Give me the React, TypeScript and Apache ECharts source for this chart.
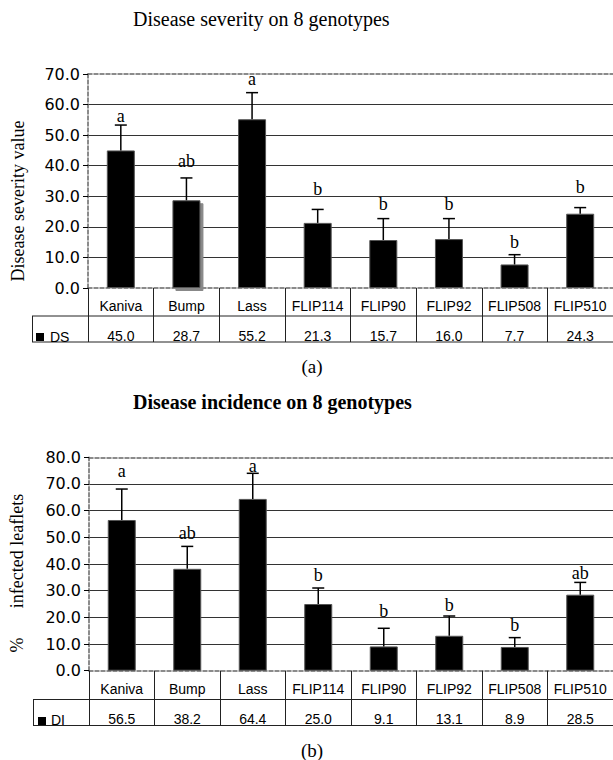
import React, { useEffect, useRef } from 'react';
import * as echarts from 'echarts';

const categories = ['Kaniva', 'Bump', 'Lass', 'FLIP114', 'FLIP90', 'FLIP92', 'FLIP508', 'FLIP510'];

const dsValues = [45.0, 28.7, 55.2, 21.3, 15.7, 16.0, 7.7, 24.3];
const dsErrorTop = [53.3, 36.0, 63.9, 25.7, 22.7, 22.7, 10.9, 26.3];
const dsLetters = ['a', 'ab', 'a', 'b', 'b', 'b', 'b', 'b'];
const dsLetterLevel = [54.4, 39.5, 66.4, 30.4, 25.6, 25.6, 13.0, 31.0];

const diValues = [56.5, 38.2, 64.4, 25.0, 9.1, 13.1, 8.9, 28.5];
const diErrorTop = [68.1, 46.6, 74.0, 31.0, 15.9, 20.5, 12.4, 33.1];
const diLetters = ['a', 'ab', 'a', 'b', 'b', 'b', 'b', 'ab'];
const diLetterLevel = [72.5, 49.3, 74.6, 33.7, 20.0, 22.5, 15.0, 34.4];

const yTicksDS = { min: 0, max: 70, interval: 10 };
const yTicksDI = { min: 0, max: 80, interval: 10 };

const SANS = '"Liberation Sans", Arial, sans-serif';
const SERIF = '"Liberation Serif", "Times New Roman", serif';
const YFONT = '"DejaVu Sans", sans-serif';

function panel(gi: number, values: number[], errTop: number[], letters: string[], letterLevel: number[], ticks: any, shadowCat: string | null) {
  const xBase = gi * 3;
  const dashed = { color: '#666', width: 1.5, type: [4, 2] as any };
  const xAxes = [
    {
      type: 'category', gridIndex: gi, position: 'bottom', data: categories, boundaryGap: true,
      axisLine: { show: true, lineStyle: dashed },
      axisTick: { show: true, length: gi === 0 ? 54 : 55, interval: 0, lineStyle: { color: '#222', width: 1 } },
      axisLabel: { show: true, interval: 0, margin: 11, fontSize: 14, fontFamily: SANS, color: '#000' },
      splitLine: { show: false },
    },
    {
      type: 'category', gridIndex: gi, position: 'bottom', data: values.map((v) => v.toFixed(1)), boundaryGap: true,
      axisLine: { show: false }, axisTick: { show: false },
      axisLabel: { show: true, interval: 0, margin: 41, fontSize: 14, fontFamily: SANS, color: '#000' },
      splitLine: { show: false },
    },
    {
      type: 'category', gridIndex: gi, position: 'top', data: categories, boundaryGap: true,
      axisLine: { show: true, lineStyle: dashed }, axisTick: { show: false }, axisLabel: { show: false },
      splitLine: { show: false },
    },
  ];
  const yAxis = {
    type: 'value', gridIndex: gi, min: ticks.min, max: ticks.max, interval: ticks.interval,
    axisLine: { show: true, lineStyle: dashed },
    axisTick: { show: true, length: 5, lineStyle: { color: '#000', width: 1 } },
    axisLabel: { show: true, margin: 8, fontSize: 16, fontFamily: YFONT, color: '#000', formatter: (v: number) => v.toFixed(1) },
    splitLine: { show: true, showMinLine: false, showMaxLine: false, lineStyle: { color: '#333', width: 1 } },
  };
  const series = [
    {
      type: 'bar', xAxisIndex: xBase, yAxisIndex: gi, barWidth: 28,
      itemStyle: { color: '#000', borderColor: '#555', borderWidth: 1 },
      data: values.map((v, j) =>
        categories[j] === shadowCat
          ? { value: v, itemStyle: { shadowColor: '#888', shadowOffsetX: 3, shadowOffsetY: 3, shadowBlur: 1 } }
          : v
      ),
      z: 2,
    },
    {
      type: 'custom', xAxisIndex: xBase, yAxisIndex: gi, z: 5,
      data: values.map((v, j) => [j, v, errTop[j]]),
      renderItem: (params: any, api: any) => {
        const c = api.value(0);
        const p0 = api.coord([c, api.value(1)]);
        const p1 = api.coord([c, api.value(2)]);
        const half = 6;
        return {
          type: 'group',
          children: [
            { type: 'line', shape: { x1: p0[0], y1: p0[1], x2: p1[0], y2: p1[1] }, style: { stroke: '#000', lineWidth: 1.5 } },
            { type: 'line', shape: { x1: p1[0] - half, y1: p1[1], x2: p1[0] + half, y2: p1[1] }, style: { stroke: '#000', lineWidth: 1.5 } },
          ],
        };
      },
    },
    {
      type: 'custom', xAxisIndex: xBase, yAxisIndex: gi, z: 6,
      data: letterLevel.map((v, j) => [j, v]),
      renderItem: (params: any, api: any) => {
        const j = params.dataIndex;
        const p = api.coord([api.value(0), api.value(1)]);
        return {
          type: 'text', x: p[0], y: p[1] - 6,
          style: { text: letters[j], fontSize: 18, fontFamily: SERIF, fill: '#000', align: 'center', verticalAlign: 'middle' },
        };
      },
    },
  ];
  return { xAxes, yAxis, series };
}

export default function App() {
  const ref = useRef<HTMLDivElement>(null);
  useEffect(() => {
    if (!ref.current) return;
    const chart = echarts.init(ref.current, null, { renderer: 'svg' });
    const a = panel(0, dsValues, dsErrorTop, dsLetters, dsLetterLevel, yTicksDS, 'Bump');
    const b = panel(1, diValues, diErrorTop, diLetters, diLetterLevel, yTicksDI, null);
    const tl = { stroke: '#222', lineWidth: 1 };
    const option: any = {
      animation: false,
      backgroundColor: '#fff',
      grid: [
        { left: 88, top: 74, width: 525, height: 214 },
        { left: 89, top: 457.3, width: 524, height: 213.4 },
      ],
      xAxis: [...a.xAxes, ...b.xAxes],
      yAxis: [a.yAxis, b.yAxis],
      series: [...a.series, ...b.series],
      graphic: [
        { type: 'text', left: 133, top: 9, style: { text: 'Disease severity on 8 genotypes', font: `20px ${SERIF}`, fill: '#000' } },
        { type: 'text', left: 133, top: 392, style: { text: 'Disease incidence on 8 genotypes', font: `bold 20px ${SERIF}`, fill: '#000' } },
        { type: 'text', x: 18, y: 201, rotation: Math.PI / 2, style: { text: 'Disease severity value', font: `18px ${SERIF}`, fill: '#000', align: 'center', verticalAlign: 'middle' } },
        { type: 'text', x: 17, y: 551, rotation: Math.PI / 2, style: { text: 'infected leaflets', font: `18px ${SERIF}`, fill: '#000', align: 'center', verticalAlign: 'middle' } },
        { type: 'text', x: 17, y: 645, rotation: Math.PI / 2, style: { text: '%', font: `18px ${SERIF}`, fill: '#000', align: 'center', verticalAlign: 'middle' } },
        { type: 'text', x: 312, y: 366, style: { text: '(a)', font: `19px ${SERIF}`, fill: '#000', align: 'center', verticalAlign: 'middle' } },
        { type: 'text', x: 312, y: 750, style: { text: '(b)', font: `19px ${SERIF}`, fill: '#000', align: 'center', verticalAlign: 'middle' } },
        // table (a)
        { type: 'line', shape: { x1: 32, y1: 316, x2: 613, y2: 316 }, style: tl },
        { type: 'line', shape: { x1: 32, y1: 342, x2: 613, y2: 342 }, style: tl },
        { type: 'line', shape: { x1: 32.5, y1: 316, x2: 32.5, y2: 342 }, style: tl },
        { type: 'rect', shape: { x: 36, y: 333, width: 8, height: 8 }, style: { fill: '#000' } },
        { type: 'text', x: 50, y: 337, style: { text: 'DS', font: `14px ${SANS}`, fill: '#000', verticalAlign: 'middle' } },
        // table (b)
        { type: 'line', shape: { x1: 33, y1: 699.5, x2: 613, y2: 699.5 }, style: tl },
        { type: 'line', shape: { x1: 33, y1: 725.5, x2: 613, y2: 725.5 }, style: tl },
        { type: 'line', shape: { x1: 33.5, y1: 699.5, x2: 33.5, y2: 725.5 }, style: tl },
        { type: 'rect', shape: { x: 38, y: 717, width: 8, height: 8 }, style: { fill: '#000' } },
        { type: 'text', x: 51, y: 720, style: { text: 'DI', font: `14px ${SANS}`, fill: '#000', verticalAlign: 'middle' } },
      ],
    };
    chart.setOption(option);
    return () => chart.dispose();
  }, []);
  return <div ref={ref} style={{ position: 'absolute', left: 0, top: 0, width: 613, height: 760 }} />;
}
